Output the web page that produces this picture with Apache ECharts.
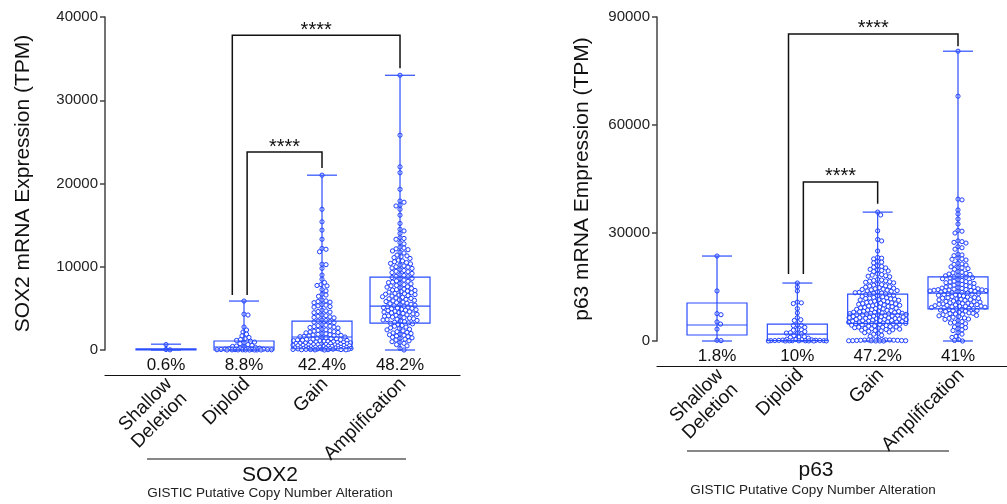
<!DOCTYPE html>
<html><head><meta charset="utf-8">
<script src="https://cdn.jsdelivr.net/npm/echarts@6/dist/echarts.min.js"></script>
<style>html,body{margin:0;padding:0;background:#fff}#c{width:1007px;height:504px}</style>
</head><body><div id="c"></div>
<script>
const FONT = "'Liberation Sans', Arial, Helvetica, sans-serif";
const categories = ['Shallow\nDeletion', 'Diploid', 'Gain', 'Amplification'];
const sox2Percent = ['0.6%', '8.8%', '42.4%', '48.2%'];
const p63Percent = ['1.8%', '10%', '47.2%', '41%'];
const sox2YTicks = { min: 0, max: 40000, interval: 10000 };
const p63YTicks = { min: 0, max: 90000, interval: 30000 };
// box stats: [min, q1, median, q3, max]
const sox2Box = [[0, 20, 60, 150, 700], [0, 0, 360, 1080, 5880], [0, 150, 1560, 3480, 21000], [0, 3240, 5280, 8760, 33000]];
const p63Box = [[0, 1670, 4440, 10560, 23600], [0, 100, 1900, 4700, 16100], [0, 4900, 7500, 13000, 35800], [0, 8900, 13300, 17800, 80500]];
// brackets: [fromX, toX, top, leftLegBottom, rightLegBottom]
const sox2Brackets = [[0.85, 3, 37800, 6600, 33850], [1.04, 2, 23770, 6600, 21850]];
const p63Brackets = [[0.89, 3, 85300, 18600, 81900], [1.075, 2, 44200, 18600, 38100]];
const bracketLabel = '****';

// individual samples (TPM)
const sox2Shallow = [650, 60, 20];
const sox2Diploid = [5880, 4300, 4200, 2760, 2400, 2160, 1900, 1700, 1500, 1350, 1250, 1150, 1050, 950, 850, 750, 650, 560, 480, 420, 360, 300, 260, 220, 180, 150, 120, 100, 80, 60, 50, 40, 30, 25, 20, 15, 10, 8, 5, 3, 2, 1, 0];
const sox2Gain = [21000, 16900, 15400, 14400, 13300, 12200, 12100, 11800, 10300, 10250, 9800, 9000, 8500, 8100,
  7850, 7750, 7700, 7250, 7100, 6700, 6600, 6450, 6000, 5900, 5820, 5750, 5680, 5450, 5380, 5300, 5220, 5150,
  4780, 4700, 4620, 4550, 4480, 4200, 4120, 4050, 3980, 3920, 3860, 3600, 3540, 3470, 3410, 3350, 3290,
  3050, 2980, 2920, 2860, 2810, 2750, 2700, 2640, 2480, 2420, 2360, 2310, 2260, 2210, 2160, 2110, 2060,
  1980, 1930, 1880, 1840, 1800, 1760, 1720, 1680, 1640, 1600, 1560, 1500, 1460, 1420, 1380, 1350, 1310, 1280, 1240, 1210, 1180, 1150, 1120, 1090,
  1050, 1020, 990, 960, 940, 910, 890, 860, 840, 810, 790, 770, 750, 720, 700, 680, 660, 640, 620, 600, 580, 560, 540, 520, 500, 480, 460, 440, 420, 400,
  380, 360, 340, 320, 300, 280, 260, 240, 220, 200, 190, 180, 170, 160, 150, 140, 130, 120, 110, 100, 90, 80, 70, 60, 50, 40, 30, 20, 10, 0];
const sox2Amp = [33000, 25800, 22000, 21300, 19300, 17900, 17750, 17400, 17300, 16900, 16200, 15200, 14500, 14300, 14000,
  13500, 13400, 13300, 12900, 12750, 12350, 12250, 12150, 12050, 11900, 11750, 11650, 11400, 11300, 11200, 11100, 11000,
  10800, 10700, 10600, 10500, 10400, 10350, 10200, 10100, 10000, 9950, 9850, 9800, 9650, 9550, 9450, 9400, 9300, 9200,
  9050, 8950, 8850, 8800, 8700, 8600, 8550, 8400, 8300, 8250, 8150, 8100, 8000, 7950, 7850, 7750, 7700, 7600, 7550, 7480,
  7400, 7320, 7250, 7200, 7150, 7080, 7020, 6950, 6880, 6800, 6750, 6700, 6650, 6600, 6540, 6480,
  6400, 6320, 6250, 6200, 6150, 6080, 6020, 5960, 5900, 5820, 5750, 5680, 5620, 5560, 5500, 5450,
  5380, 5320, 5260, 5200, 5150, 5100, 5050, 5000, 4950, 4900, 4840, 4780, 4720, 4660, 4600, 4550, 4500, 4450,
  4400, 4340, 4280, 4220, 4160, 4100, 4050, 4000, 3950, 3880, 3820, 3760, 3700, 3650, 3600, 3550,
  3480, 3400, 3330, 3260, 3200, 3140, 3080, 2950, 2850, 2750, 2660, 2580, 2500, 2420,
  2300, 2200, 2120, 2050, 1980, 1900, 1830, 1760, 1680, 1600, 1530, 1460, 1400, 1300, 1200, 1100, 1000, 920, 800, 650, 500, 200, 0];
const p63Shallow = [23600, 13900, 7600, 7300, 5300, 4700, 3300, 200, 100];
const p63Diploid = [16100, 15000, 13900, 10800, 10600, 10400, 9000, 7800, 6500, 5900, 5700, 4500, 4400, 4300, 3800, 3200, 3100, 3000, 2600, 2300, 2200, 2100, 2000, 1500, 1200, 1100, 1000, 800, 500, 400, 350, 300, 250, 200, 180, 150, 120, 100, 90, 80, 60, 50, 40, 30, 20, 10, 5, 0];
const p63Gain = [35800, 35000, 30600, 28200, 27800, 25000, 23200, 23000, 22800, 22100, 21900, 21700, 20900, 20700, 20500, 20300,
  19900, 19750, 19600, 19450, 19300, 18600, 18450, 18300, 18150, 18000, 17850, 17100, 16950, 16800, 16700, 16600, 16450, 16300, 16150,
  15800, 15650, 15500, 15350, 15250, 15100, 14950, 14800, 14650, 14500, 14400, 14300, 14200, 14100, 14000, 13900, 13800, 13650,
  13500, 13400, 13300, 13200, 13100, 13000, 12900, 12800, 12700, 12550, 12400, 12250, 12100, 12000, 11900, 11800, 11700, 11600, 11500, 11400, 11300, 11200,
  11050, 10900, 10800, 10700, 10600, 10500, 10400, 10300, 10200, 10100, 10000, 9900, 9800, 9700, 9600, 9500, 9400, 9300, 9200, 9100, 9000, 8900, 8800, 8700, 8600,
  8500, 8400, 8300, 8250, 8200, 8100, 8000, 7950, 7900, 7800, 7700, 7650, 7600, 7500, 7450, 7400, 7300, 7250, 7200, 7100, 7000, 6950, 6900, 6800, 6700, 6650, 6600, 6500,
  6450, 6400, 6300, 6250, 6200, 6100, 6000, 5950, 5900, 5800, 5700, 5650, 5600, 5500, 5450, 5400, 5300, 5250, 5200, 5100, 5050, 5000, 4950, 4900, 4850, 4800, 4700, 4650, 4600, 4500,
  4400, 4300, 4200, 4100, 4000, 3900, 3850, 3800, 3700, 3600, 3500, 3400, 3300, 3200, 3100, 3000, 2900, 2800, 2700, 2500, 2300, 2100, 1900, 1600, 1300,
  400, 380, 350, 320, 300, 280, 250, 220, 200, 180, 150, 120, 100, 80, 60, 50, 20, 10, 0];
const p63Amp = [80500, 68000, 39400, 39200, 36400, 35300, 33900, 32500, 30700, 30500, 30000, 27800, 27600, 27400, 27200, 26200, 25900, 25500,
  24100, 23900, 23700, 23000, 22800, 22700, 22500, 21600, 21400, 21300, 21100, 20600, 20400, 20300, 20100, 19900, 19300, 19100, 18900, 18800, 18600, 18500,
  18200, 18100, 17900, 17800, 17700, 17600, 17500, 17300, 17000, 16800, 16600, 16500, 16400, 16300, 16200, 16000, 15900, 15700,
  15500, 15400, 15200, 15100, 15000, 14900, 14800, 14700, 14600, 14500, 14400, 14300, 14250, 14200, 14150, 14100, 14050, 14000, 13950, 13900, 13800, 13700,
  13600, 13500, 13400, 13300, 13200, 13100, 13000, 12900, 12800, 12700, 12600, 12500, 12300, 12200, 12100, 12000, 11900, 11800, 11700, 11600, 11500, 11400,
  11300, 11100, 11000, 10900, 10800, 10700, 10600, 10500, 10400, 10300, 10200, 10100, 10000, 9950, 9900, 9800, 9700, 9650, 9600, 9500, 9400, 9300, 9200,
  9100, 9000, 8900, 8800, 8700, 8600, 8500, 8400, 8300, 8200, 8000, 7800, 7700, 7600, 7500, 7400, 7300, 7100,
  7000, 6800, 6600, 6400, 6300, 6100, 6000, 5700, 5400, 5200, 5000, 4800, 4500, 4200, 3900, 3700, 3400, 3100, 2900, 2300, 1900, 1300, 1000, 400, 150, 0];

const sox2Groups = [sox2Shallow, sox2Diploid, sox2Gain, sox2Amp];
const p63Groups = [p63Shallow, p63Diploid, p63Gain, p63Amp];

const BLUE = '#2a4dff';
const PT = '#1d3dff';

function boxRender(params, api) {
  const i = api.value(0);
  const pMin = api.coord([i, api.value(1)]);
  const pQ1 = api.coord([i, api.value(2)]);
  const pMed = api.coord([i, api.value(3)]);
  const pQ3 = api.coord([i, api.value(4)]);
  const pMax = api.coord([i, api.value(5)]);
  const cx = pMin[0], hw = 30, cw = 15;
  const st = { stroke: BLUE, lineWidth: 1.2, fill: 'none' };
  return { type: 'group', children: [
    { type: 'line', shape: { x1: cx, y1: pMin[1], x2: cx, y2: pMax[1] }, style: st },
    { type: 'line', shape: { x1: cx - cw, y1: pMax[1], x2: cx + cw, y2: pMax[1] }, style: st },
    { type: 'line', shape: { x1: cx - cw, y1: pMin[1], x2: cx + cw, y2: pMin[1] }, style: st },
    { type: 'rect', shape: { x: cx - hw, y: pQ3[1], width: 2 * hw, height: pQ1[1] - pQ3[1] }, style: st },
    { type: 'line', shape: { x1: cx - hw, y1: pMed[1], x2: cx + hw, y2: pMed[1] }, style: st }
  ]};
}
function bracketRender(params, api) {
  const a = api.coord([api.value(0), api.value(3)]);
  const b = api.coord([api.value(0), api.value(2)]);
  const c = api.coord([api.value(1), api.value(2)]);
  const d = api.coord([api.value(1), api.value(4)]);
  return { type: 'group', children: [
    { type: 'polyline', shape: { points: [a, b, c, d] }, style: { stroke: '#111', lineWidth: 1.5, fill: 'none' } },
    { type: 'text', style: { text: bracketLabel, x: (b[0] + c[0]) / 2, y: b[1] - 5, align: 'center', verticalAlign: 'middle', fontSize: 20, fontFamily: FONT, fill: '#111' } }
  ]};
}
function pctRender(labels) {
  return function (params, api) {
    const p = api.coord([api.value(0), 0]);
    return { type: 'text', style: { text: labels[params.dataIndex], x: p[0], y: p[1] + 15, align: 'center', verticalAlign: 'middle', fontSize: 17, fontFamily: FONT, fill: '#111' } };
  };
}

function xAxisDef(g, min, max) {
  return {
    gridIndex: g, type: 'value', min: min, max: max, offset: 25,
    axisLine: { show: true, onZero: false, lineStyle: { color: '#111', width: 1.2 } },
    axisTick: { show: false }, splitLine: { show: false },
    axisLabel: { customValues: [0.04, 1.04, 2.04, 3.04],
      formatter: v => { const i = Math.round(v); const s = categories[i] || ''; return s.indexOf('\n') >= 0 ? '\n' + s : s; },
      rotate: 45, fontSize: 19, lineHeight: 21, margin: 6, color: '#111', fontFamily: FONT }
  };
}
function yAxisDef(g, t, name, gap) {
  return {
    gridIndex: g, type: 'value', min: t.min, max: t.max, interval: t.interval,
    axisLine: { show: true, onZero: false, lineStyle: { color: '#444', width: 1.5 } },
    axisTick: { show: true, length: 5, lineStyle: { color: '#444', width: 1.5 } },
    splitLine: { show: false },
    axisLabel: { fontSize: 15, color: '#222', margin: 7, fontFamily: FONT, formatter: v => String(v) },
    name: name, nameLocation: 'middle', nameRotate: 90, nameGap: gap,
    nameTextStyle: { fontSize: 21, color: '#111', fontFamily: FONT }
  };
}

const chart = echarts.init(document.getElementById('c'), null, { renderer: 'canvas' });
const baseOption = {
  animation: false,
  backgroundColor: '#fff',
  textStyle: { fontFamily: FONT },
  grid: [
    { left: 105, top: 17, width: 355, height: 333, containLabel: false, outerBoundsMode: 'none' },
    { left: 657, top: 17, width: 350, height: 324, containLabel: false, outerBoundsMode: 'none' }
  ],
  xAxis: [xAxisDef(0, -0.782, 3.769), xAxisDef(1, -0.747, 3.61)],
  yAxis: [yAxisDef(0, sox2YTicks, 'SOX2 mRNA Expression (TPM)', 71), yAxisDef(1, p63YTicks, 'p63 mRNA Empression (TPM)', 64)],
  graphic: [
    { type: 'line', shape: { x1: 147, y1: 459, x2: 406, y2: 459 }, style: { stroke: '#111', lineWidth: 1.2 } },
    { type: 'text', x: 270, y: 475, style: { text: 'SOX2', fontSize: 21, fontFamily: FONT, fill: '#111', align: 'center', verticalAlign: 'middle' } },
    { type: 'text', x: 270, y: 493, style: { text: 'GISTIC Putative Copy Number Alteration', fontSize: 13.5, fontFamily: FONT, fill: '#222', align: 'center', verticalAlign: 'middle' } },
    { type: 'line', shape: { x1: 687, y1: 451, x2: 949, y2: 451 }, style: { stroke: '#111', lineWidth: 1.2 } },
    { type: 'text', x: 816, y: 470, style: { text: 'p63', fontSize: 21, fontFamily: FONT, fill: '#111', align: 'center', verticalAlign: 'middle' } },
    { type: 'text', x: 813, y: 490, style: { text: 'GISTIC Putative Copy Number Alteration', fontSize: 13.5, fontFamily: FONT, fill: '#222', align: 'center', verticalAlign: 'middle' } }
  ],
  series: [
    { id: 'sc0', type: 'scatter', xAxisIndex: 0, yAxisIndex: 0, data: [], clip: false, symbol: 'circle', symbolSize: 4.2,
      itemStyle: { color: '#fff', borderColor: PT, borderWidth: 1, opacity: 1 }, z: 2, silent: true },
    { id: 'sc1', type: 'scatter', xAxisIndex: 1, yAxisIndex: 1, data: [], clip: false, symbol: 'circle', symbolSize: 4.2,
      itemStyle: { color: '#fff', borderColor: PT, borderWidth: 1, opacity: 1 }, z: 2, silent: true },
    { type: 'custom', xAxisIndex: 0, yAxisIndex: 0, renderItem: boxRender, z: 3, silent: true,
      data: sox2Box.map((b, i) => [i].concat(b)) },
    { type: 'custom', xAxisIndex: 1, yAxisIndex: 1, renderItem: boxRender, z: 3, silent: true,
      data: p63Box.map((b, i) => [i].concat(b)) },
    { type: 'custom', xAxisIndex: 0, yAxisIndex: 0, renderItem: bracketRender, z: 4, silent: true, data: sox2Brackets },
    { type: 'custom', xAxisIndex: 1, yAxisIndex: 1, renderItem: bracketRender, z: 4, silent: true, data: p63Brackets },
    { type: 'custom', xAxisIndex: 0, yAxisIndex: 0, renderItem: pctRender(sox2Percent), z: 4, silent: true,
      data: sox2Percent.map((p, i) => [i, 0]) },
    { type: 'custom', xAxisIndex: 1, yAxisIndex: 1, renderItem: pctRender(p63Percent), z: 4, silent: true,
      data: p63Percent.map((p, i) => [i, 0]) }
  ]
};
chart.setOption(baseOption);

// beeswarm layout (pixel space) for each category
function swarm(gridIndex, groups, halfW) {
  const finder = { xAxisIndex: gridIndex, yAxisIndex: gridIndex };
  const x0 = chart.convertToPixel(finder, [0, 0])[0];
  const x1 = chart.convertToPixel(finder, [1, 0])[0];
  const unit = x1 - x0;
  const D = 3.9, D2 = D * D;
  const cands = [0];
  for (let s = 0.5; s <= halfW; s += 0.5) { cands.push(s, -s); }
  const out = [];
  groups.forEach((vals, ci) => {
    const pts = vals.map(v => ({ v: v, y: chart.convertToPixel(finder, [0, v])[1] }));
    pts.sort((a, b) => a.y - b.y);
    const placed = [];
    pts.forEach(p => {
      const near = placed.filter(q => Math.abs(q.y - p.y) < D);
      let best = null, bestScore = -1;
      for (const c of cands) {
        let minD = Infinity;
        for (const q of near) {
          const dx = q.x - c, dy = q.y - p.y;
          const dd = dx * dx + dy * dy;
          if (dd < minD) minD = dd;
        }
        if (minD >= D2) { best = c; bestScore = Infinity; break; }
        if (minD > bestScore + 0.01) { bestScore = minD; best = c; }
      }
      placed.push({ x: best, y: p.y });
      out.push([ci + best / unit, p.v]);
    });
  });
  return out;
}
chart.setOption({ series: [
  { id: 'sc0', data: swarm(0, sox2Groups, 29) },
  { id: 'sc1', data: swarm(1, p63Groups, 29) }
]});
</script></body></html>
